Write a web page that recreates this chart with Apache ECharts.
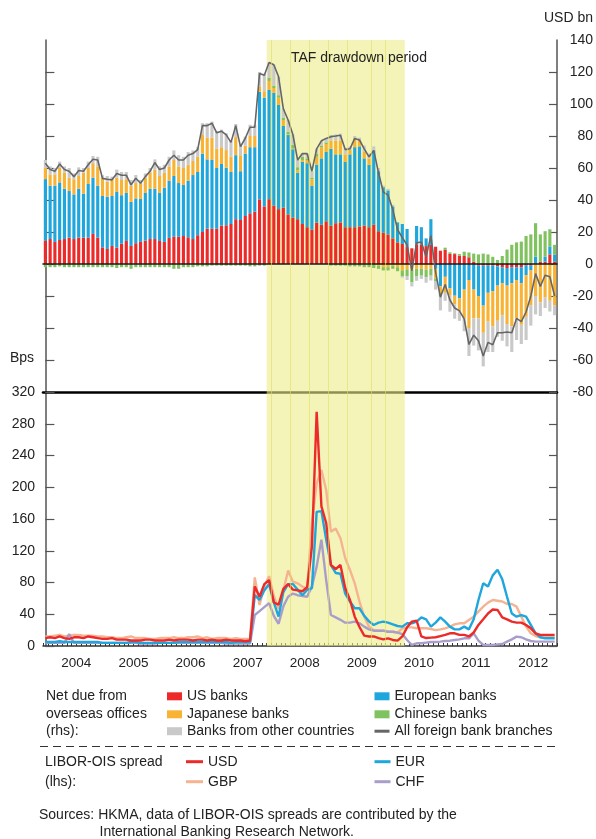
<!DOCTYPE html>
<html><head><meta charset="utf-8">
<script src="https://cdn.jsdelivr.net/npm/echarts@6/dist/echarts.min.js"></script>
<style>html,body{margin:0;padding:0;background:#fff}#c{width:596px;height:839px}</style>
</head><body><div id="c"></div>
<script>
// ---- categories: month ends, Dec 2003 .. Nov 2012 ----
const months = [];
for (let i = 0; i < 108; i++) {
  const y = 2003 + Math.floor((11 + i) / 12);
  const m = (11 + i) % 12 + 1;
  months.push(y + '-' + String(m).padStart(2, '0'));
}
const rhsTicks = [-80, -60, -40, -20, 0, 20, 40, 60, 80, 100, 120, 140];
const lhsTicks = [0, 40, 80, 120, 160, 200, 240, 280, 320];
const tafPeriod = ['2007-11', '2010-03'];
const tafMarks = ['2007-12', '2008-04', '2008-08', '2008-12', '2009-04', '2009-09', '2009-12'];

// ---- Net due from overseas offices (USD bn, rhs) ----
const usBanks = [
  14.6, 15.6, 13.8, 15, 15.6, 16.5, 15.6, 16.5, 16.5, 16.5, 18.8, 16.5,
  10.4, 9.4, 11.3, 10.2, 12.7, 14.4, 11.3, 13, 13.8, 14.6, 15.6, 15.6,
  14.4, 13.8, 16.3, 17, 17, 17.5, 16.7, 15.6, 18, 20, 22, 22,
  22, 24, 24.2, 25, 28, 27.5, 30, 31.7, 32.7, 40.4, 36, 40.5,
  36.5, 34.3, 35.2, 31, 29, 28, 25, 23, 21.5, 25.8, 24.5, 26.7,
  24, 25.5, 26, 23, 23, 23, 23.5, 24, 23, 24.5, 20.5, 19.5,
  18.5, 16, 13.5, 12.5, 10.6, 9.8, 12.3, 12, 11.2, 12, 10.8, 8.3,
  8.8, 6.3, 6.2, 5.2, 5, 4.2, 1.5, -1, -1, -1, -1, -1.5,
  -2, -2.5, -2, -2, -2, -1, -1, 0.5, 1.5, 1.5, 6, 1.5
];
const europeanBanks = [
  38.4, 33.4, 35.2, 36, 31.4, 29.1, 27.9, 30.5, 27.5, 33.5, 35.2, 32.5,
  32.1, 32.6, 31.2, 34.8, 30.3, 30, 27.5, 28, 26.8, 29.8, 31.4, 31.4,
  30, 33.9, 35.7, 38, 33.6, 31.9, 35.3, 40, 39.5, 49, 43.4, 43,
  38, 38.5, 36, 32.5, 40, 30.5, 39, 41.3, 40.3, 67.2, 68, 68.3,
  70.5, 65.1, 51.1, 49.6, 42.7, 29, 39, 40, 27.5, 36.2, 41.5, 43.3,
  48, 43, 42.5, 41, 45.5, 50, 50, 42, 39, 46.5, 37.5, 28.5,
  27.5, 20, 12.5, 12.5, 11.3, 0, 11.45, 11, 4.8, 16, -3, -14,
  -8, -15.2, -19.8, -21.5, -16, -10, -16, -19, -25, -17, -16, -12,
  -10, -11, -10, -8, -10, -6, -3, 4, 0, 3, 5, 4.5
];
const japaneseBanks = [
  7, 7, 7, 9, 10, 8.4, 9.5, 8, 13, 10, 9, 12,
  11.5, 9.5, 10, 9, 9.5, 8.6, 10, 9.6, 9.4, 9.6, 10, 11.8,
  10.6, 9.3, 9, 10, 10.4, 10.6, 10, 8.8, 9.5, 11.6, 13.6, 14,
  12, 10.5, 11, 9.5, 11.3, 10, 5, 7, 7, 3.4, 4, 5.6,
  3, 4.6, 3.7, 0.5, 0.5, 1.5, 1, 2, 4, 5, 7, 5,
  5, 8.5, 8.5, 4.5, 3, 5.5, 4, 4, 4, 0, -1, -2,
  -2, -1, -2, -4, -3.3, -3.75, -3, -3, -3.5, -3, -6, -4,
  -10, -4.6, -5.4, -8, -18, -30, -18, -14, -17, -18, -22, -22,
  -20, -24, -27, -24, -26, -26, -22, -20, -24, -21, -23, -26
];
const chineseBanks = [
  -2, -2, -2, -1.5, -2, -2, -2, -2, -2, -2, -2, -2,
  -2, -2, -2, -2.5, -2, -2, -3, -2, -2, -2, -2, -2,
  -2, -2, -2, -3, -3, -2, -2, -2, -1.5, -1.5, -1.5, -1,
  -1, -1, -1, -1, -1, -1, -1, -1.5, -1.5, -1, -1, 2,
  1.5, 1.5, 1.5, 1.5, 2.2, 2, 2, 1, 1, 2, 1, 1,
  -1, -1, -1, -1, -1.5, -1.5, -1.5, -2, -2, -2.5, -2, -2,
  -2, -2, -2.5, -3.5, -4.2, -7.75, -4.5, -4.3, -4.8, -4.3, -2, -2,
  1.4, 1, 0.5, 1, 2.7, 3, 5, 6, 6.5, 6, 4.5, 2.5,
  5, 9, 12, 13.5, 14, 17.5, 18.5, 21, 17, 16, 10.7, 6
];
const otherBanks = [
  5, 5, 4, 4, 4, 6, 3.6, 5.4, 3, 4, 4.5, 6,
  1.5, 3.5, 2.1, 5, 5, 4.5, 3.7, 5, 2.5, 2.6, 3, 6.6,
  6, 5, 6, 6, 7, 7, 8, 6.6, 6, 7.4, 9, 10,
  11, 11, 10.5, 10, 8.2, 6.4, 5.6, 7, 7, 9, 11, 9.5,
  13, 11.5, 5.5, 7.5, 6.6, 4.5, 2, 3, 4, 3, 3, 2.5,
  3.6, 4, 4.5, 4, 2, 1.5, 1.5, 4, 3, 2.5, 2, 1,
  1, 1, 0, -1, -2.5, -2.5, -3, -2, -3.4, -3, -5, -9,
  -5, -10, -9, -6, -8, -17.5, -17, -20, -21, -19, -16, -10,
  -16, -14, -16, -13.5, -12, -14.5, -12.5, -11.5, -8.5, -6.5, -6.7, -6
];
const allBranches = [
  63, 59, 58, 62.5, 59, 58, 54.6, 58.4, 58, 62, 65.5, 65,
  53.5, 53, 52.6, 56.5, 55.5, 55.5, 49.5, 53.6, 50.5, 54.6, 58, 63.4,
  59, 60, 65, 68, 65, 65, 68, 69, 71.5, 86.5, 86.5, 88,
  82, 83, 80.7, 76, 86.5, 73.4, 78.6, 85.5, 85.5, 119, 118, 125.9,
  124.5, 117, 97, 90, 81, 65, 69, 69, 58, 72, 77, 78.5,
  79.6, 80, 80.5, 71.5, 72, 78.5, 77.5, 72, 67, 71, 57, 45,
  43, 34, 21.5, 16.5, 11.9, -4.2, 13.25, 13.7, 4.3, 17.7, -5.2, -20.7,
  -12.8, -22.5, -27.5, -29.3, -34.3, -50.3, -44.5, -48, -57.5, -49, -50.5, -43,
  -43, -42.5, -43, -34, -36, -30, -20, -6, -14, -7, -8, -20
];

// ---- LIBOR-OIS spreads (bps, lhs) ----
const usd = [
  10, 11, 10, 12, 10, 9, 11, 11, 10, 12, 11, 10,
  9, 9, 10, 8, 8, 8, 7, 7, 7, 8, 8, 7,
  7, 7, 8, 7, 8, 8, 8, 7, 8, 8, 7, 8,
  7, 7, 8, 7, 7, 7, 6, 7, 75, 62, 78, 83,
  55, 52, 72, 78, 71, 70, 69, 74, 125, 295, 176, 155,
  102, 97, 102, 73, 58, 37, 24, 13, 12, 12, 10, 8.4,
  9.7, 7.6, 6.7, 12, 23.5, 30.7, 32, 12, 10, 10.5, 11, 12.5,
  14, 16, 16, 14, 14, 12, 17, 26.5, 33.6, 41, 46, 45.4,
  36, 33.6, 30.7, 29.4, 29.4, 26.5, 22.3, 16, 14, 14, 14, 14
];
const eur = [
  5, 5, 5, 6, 5, 5, 5, 5, 5, 5, 5, 5,
  4, 4, 4, 4, 4, 4, 5, 5, 4, 4, 4, 4,
  4, 4, 4, 4, 5, 5, 5, 5, 5, 5, 5, 5,
  5, 5, 5, 4, 5, 5, 5, 5, 64, 58, 70, 78,
  55, 37, 68, 78, 78, 71, 64, 70.6, 73, 169, 170, 134,
  102, 92, 91, 66, 56, 47.5, 47.5, 38, 31, 26.5, 29.4, 30.7,
  29.4, 27.3, 25.2, 24.4, 28.6, 28.6, 30.7, 36, 33.6, 24.4, 29.4, 36,
  30.7, 24.4, 21, 21, 24.4, 21, 33.6, 58, 79, 75, 89, 96,
  84, 62, 41, 37, 39, 37, 26.5, 16, 11, 9.7, 9.7, 9.7
];
const gbp = [
  12, 12, 13, 14, 12, 13, 14, 14, 13, 13, 13, 12,
  12, 11, 11, 10, 10, 11, 12, 10, 10, 10, 9, 9,
  10, 10, 10, 11, 10, 10, 11, 11, 12, 10, 11, 9,
  10, 10, 10, 9, 10, 9, 9, 9, 86.5, 51.7, 75, 88,
  63, 47, 70, 95, 81, 79, 74.8, 72.7, 155, 205, 221.8, 196.6,
  144, 148, 135.7, 110.5, 95.8, 79, 56, 37, 24.4, 20, 19.3, 19.3,
  18, 18, 16.8, 22.3, 23.5, 23.5, 22.3, 22.3, 22.3, 21.4, 20, 21,
  22.3, 24.4, 27.3, 28.6, 28.6, 32.8, 37, 43.3, 49.6, 54.6, 58, 57,
  56, 53, 53, 49.6, 37, 24.4, 16, 12.6, 11, 11, 11, 11
];
const chf = [
  4, 4, 4, 4, 4, 15, 4, 4, 4, 4, 4, 4,
  4, 4, 4, 4, 4, 4, 4, 4, 3, 3, 3, 3,
  4, 4, 4, 4, 4, 4, 4, 4, 4, 4, 4, 4,
  4, 4, 3, 3, 3, 3, 3, 3, 39, 44, 49, 54,
  38, 28, 50, 62, 66, 64, 63, 62, 75, 100, 134, 83,
  39, 36, 33, 29.4, 29.4, 30.7, 28.6, 24.4, 21, 19.3, 19.3, 19.3,
  18, 18, 16.8, 15, 7.6, 1.3, 3.4, 3.4, 4.2, 5, 5, 5.5,
  6.3, 6.7, 7.6, 8.4, 9.7, 9.7, 16, 6.7, 1.3, 1.3, 1.3, 2,
  2.5, 5.5, 8.4, 11.8, 11, 8.4, 6.3, 5.5, 5.5, 5.5, 5.5, 5.5
];

// ---- styling ----
const FONT = "'Liberation Sans', Arial, Helvetica, sans-serif";
const TXT = '#222';
const AX = '#555';
const C = { us: '#ec2a2a', eu: '#1fa6dd', jp: '#f8b334', cn: '#80c25f', oth: '#c9c9c9', all: '#666666',
            usd: '#ec2a2a', eur: '#1fa6dd', gbp: '#f6b391', chf: '#a99dcb' };

const chart = echarts.init(document.getElementById('c'), null, { renderer: 'canvas' });

function yAx(grid, pos, min, max, interval, ticks, showLabel, tickLen) {
  return {
    type: 'value', gridIndex: grid, position: pos, min: min, max: max, interval: interval,
    axisLine: { show: true, lineStyle: { color: AX, width: 1.5 } },
    axisTick: { show: true, inside: true, length: tickLen, customValues: ticks, lineStyle: { color: AX, width: 1.2 } },
    axisLabel: showLabel ? { show: true, color: TXT, fontSize: 14, fontFamily: FONT,
      margin: pos === 'right' ? 36 : 8, align: 'right' } : { show: false },
    splitLine: { show: false }
  };
}

function leg(name, left, cy, w, h) {
  return {
    data: [name], left: left, top: cy - 8, padding: 0, itemWidth: w, itemHeight: h, icon: 'rect',
    selectedMode: false, itemGap: 0,
    textStyle: { color: TXT, fontSize: 14, fontFamily: FONT, lineHeight: 16 }
  };
}

const bandSeries = (xi, yi) => ({
  type: 'line', data: [], xAxisIndex: xi, yAxisIndex: yi, z: 1, silent: true,
  markArea: { silent: true, itemStyle: { color: 'rgba(237,237,137,0.6)' },
    data: [[{ xAxis: months.indexOf(tafPeriod[0]) - 0.5 }, { xAxis: months.indexOf(tafPeriod[1]) + 0.5 }]] },
  markLine: { silent: true, symbol: 'none', label: { show: false },
    lineStyle: { color: 'rgba(222,222,100,0.6)', width: 1, type: 'solid' },
    data: tafMarks.map(m => ({ xAxis: months.indexOf(m) - 0.5 })) }
});

const barSeries = (name, data, color) => ({
  type: 'bar', name: name, data: data, xAxisIndex: 0, yAxisIndex: 1, stack: 'net',
  barWidth: '66%', itemStyle: { color: color }, z: 2, silent: true
});
const lineSeries = (name, data, color, xi, yi, w, z) => ({
  type: 'line', name: name, data: data, xAxisIndex: xi, yAxisIndex: yi, symbol: 'none',
  lineStyle: { color: color, width: w }, itemStyle: { color: color }, z: z, silent: true
});

const r1 = 696.3, r2 = 714.3, r3 = 731.2, r4 = 761.7, r5 = 781.7;

const option = {
  animation: false,
  backgroundColor: '#fff',
  textStyle: { fontFamily: FONT },
  grid: [
    { left: 43, right: 39, top: 40, height: 352 },
    { left: 43, right: 39, top: 392, height: 254 }
  ],
  xAxis: [
    { type: 'category', gridIndex: 0, data: months, boundaryGap: true, z: 3,
      axisLine: { show: true, onZero: true, lineStyle: { color: '#1a1a1a', width: 1.6 } },
      axisTick: { show: false }, axisLabel: { show: false }, splitLine: { show: false } },
    { type: 'category', gridIndex: 1, data: months, boundaryGap: true, position: 'bottom',
      axisLine: { show: true, onZero: false, lineStyle: { color: '#333', width: 1.5 } },
      axisTick: { show: true, inside: true, length: 3, interval: 0, lineStyle: { color: '#333', width: 1 } },
      axisLabel: { show: true, interval: (i, v) => v.slice(5) === '06', margin: 10,
        formatter: v => '{y|' + v.slice(0, 4) + '}',
        rich: { y: { padding: [0, 0, 0, 4.75], fontSize: 13.5, color: TXT, fontFamily: FONT } } },
      splitLine: { show: false } },
    { type: 'category', gridIndex: 1, data: months, position: 'top',
      axisLine: { show: true, onZero: false, lineStyle: { color: '#000', width: 2.6 } },
      axisTick: { show: false }, axisLabel: { show: false }, splitLine: { show: false } },
    { type: 'value', gridIndex: 0, min: -0.5, max: 107.5, show: false },
    { type: 'value', gridIndex: 1, min: -0.5, max: 107.5, show: false }
  ],
  yAxis: [
    yAx(0, 'left', -80, 140, 20, rhsTicks.slice(0, -1), false, 9),
    yAx(0, 'right', -80, 140, 20, rhsTicks.slice(0, -1), true, 8),
    yAx(1, 'left', 0, 320, 40, lhsTicks, true, 9),
    yAx(1, 'right', 0, 320, 40, lhsTicks, false, 8)
  ],
  legend: [
    leg('US banks', 167, r1, 15, 8),
    leg('Japanese banks', 167, r2, 15, 8),
    leg('Banks from other countries', 167, r3, 15, 8),
    leg('European banks', 374.5, r1, 15, 8),
    leg('Chinese banks', 374.5, r2, 15, 8),
    leg('All foreign bank branches', 374.5, r3, 15, 3),
    leg('USD', 186, r4, 17, 3),
    leg('GBP', 186, r5, 17, 3),
    leg('EUR', 374.5, r4, 16, 3),
    leg('CHF', 374.5, r5, 16, 3)
  ],
  series: [
    bandSeries(3, 0),
    bandSeries(4, 2),
    barSeries('US banks', usBanks, C.us),
    barSeries('European banks', europeanBanks, C.eu),
    barSeries('Japanese banks', japaneseBanks, C.jp),
    barSeries('Chinese banks', chineseBanks, C.cn),
    barSeries('Banks from other countries', otherBanks, C.oth),
    lineSeries('All foreign bank branches', allBranches, C.all, 0, 1, 1.6, 4),
    lineSeries('GBP', gbp, C.gbp, 1, 2, 2.4, 3),
    lineSeries('CHF', chf, C.chf, 1, 2, 2.4, 3),
    lineSeries('EUR', eur, C.eur, 1, 2, 2.4, 3),
    lineSeries('USD', usd, C.usd, 1, 2, 2.4, 3)
  ],
  graphic: [
    { type: 'text', x: 593, y: 18, style: { text: 'USD bn', fill: TXT, font: '14px ' + FONT, align: 'right', verticalAlign: 'middle' } },
    { type: 'text', x: 10, y: 358, style: { text: 'Bps', fill: TXT, font: '14px ' + FONT, align: 'left', verticalAlign: 'middle' } },
    { type: 'text', x: 291, y: 58, z: 10, style: { text: 'TAF drawdown period', fill: TXT, font: '14px ' + FONT, align: 'left', verticalAlign: 'middle' } },
    { type: 'text', x: 46, y: r1, style: { text: 'Net due from', fill: TXT, font: '14px ' + FONT, verticalAlign: 'middle' } },
    { type: 'text', x: 46, y: r2, style: { text: 'overseas offices', fill: TXT, font: '14px ' + FONT, verticalAlign: 'middle' } },
    { type: 'text', x: 46, y: r3, style: { text: '(rhs):', fill: TXT, font: '14px ' + FONT, verticalAlign: 'middle' } },
    { type: 'line', shape: { x1: 40, y1: 746.5, x2: 557, y2: 746.5 }, style: { stroke: '#333', lineWidth: 1.2, lineDash: [8, 5] } },
    { type: 'text', x: 45, y: r4, style: { text: 'LIBOR-OIS spread', fill: TXT, font: '14px ' + FONT, verticalAlign: 'middle' } },
    { type: 'text', x: 45, y: r5, style: { text: '(lhs):', fill: TXT, font: '14px ' + FONT, verticalAlign: 'middle' } },
    { type: 'text', x: 39, y: 815, style: { text: 'Sources: HKMA, data of LIBOR-OIS spreads are contributed by the', fill: TXT, font: '14px ' + FONT, verticalAlign: 'middle' } },
    { type: 'text', x: 99.5, y: 832.5, style: { text: 'International Banking Research Network.', fill: TXT, font: '14px ' + FONT, verticalAlign: 'middle' } }
  ]
};
chart.setOption(option);
</script>
</body></html>
